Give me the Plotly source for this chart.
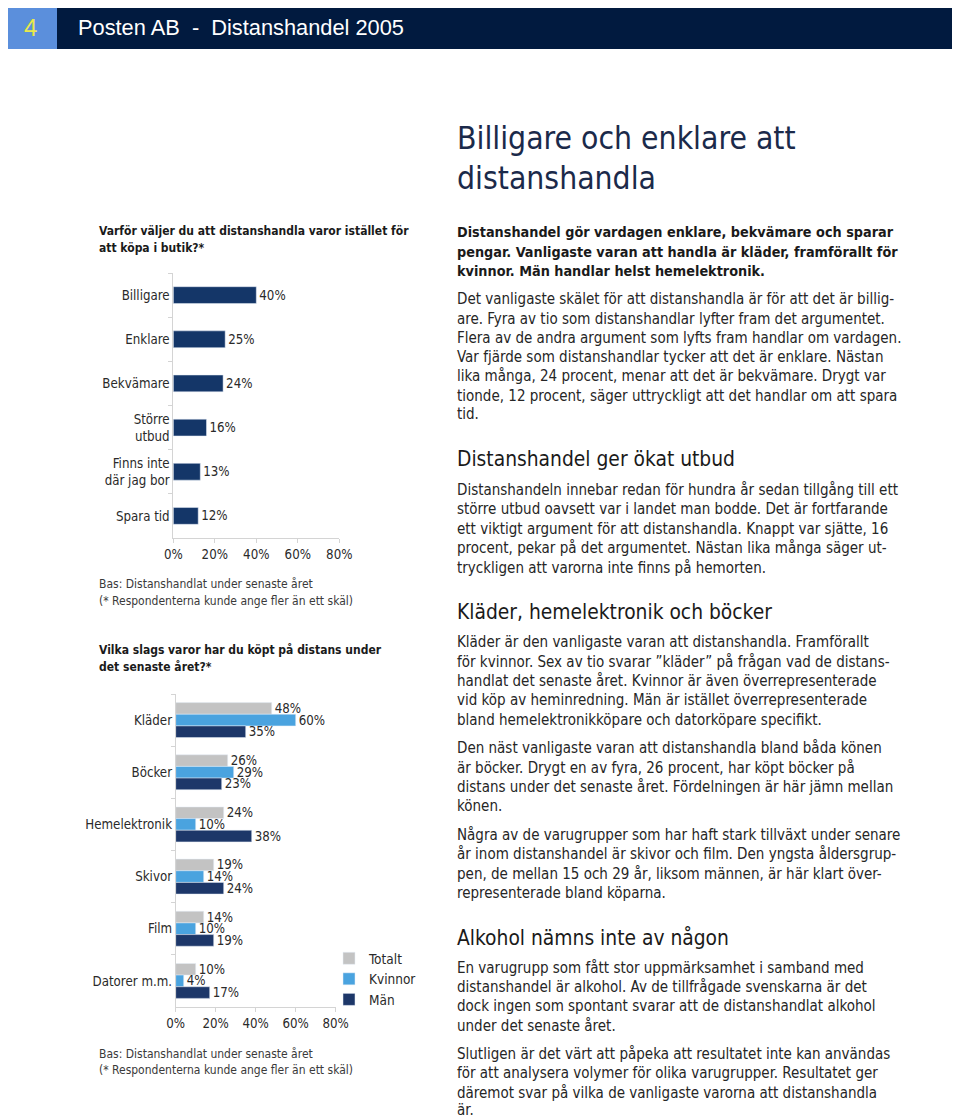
import plotly.graph_objects as go

# page offset: the browser puts the figure 8px from the page corner
OFF = 8
W, H = 960 - OFF, 1118 - OFF

# ---------------- data ----------------
reasons = ["Billigare", "Enklare", "Bekvämare", "Större<br>utbud", "Finns inte<br>där jag bor", "Spara tid"]
reason_pct = [40, 25, 24, 16, 13, 12]

goods = ["Kläder", "Böcker", "Hemelektronik", "Skivor", "Film", "Datorer m.m."]
totalt = [48, 26, 24, 19, 14, 10]
kvinnor = [60, 29, 10, 14, 10, 4]
man = [35, 23, 38, 24, 19, 17]
series_names = ["Totalt", "Kvinnor", "Män"]

tick_vals = [0, 20, 40, 60, 80]
tick_text = ["0%", "20%", "40%", "60%", "80%"]

# ---------------- style ----------------
FONT = "Liberation Sans Narrow, Arial Narrow, DejaVu Sans Condensed, sans-serif"
NAVY = "#143668"
C_TOT = "#c3c3c3"
C_KV = "#4aa3df"
C_MAN = "#1d3769"
AXC = "#d4d4d4"
TXT = "#2a2a2a"
CS = 12    # chart title / note size
LS = 13.2  # axis and value label size


def px(x):
    return (x - OFF) / W


def py(y):
    return 1 - (y - OFF) / H


fig = go.Figure()

fig.add_trace(go.Bar(
    x=reason_pct, y=reasons, orientation="h", marker_color=NAVY,
    width=0.38, text=[f"{v}%" for v in reason_pct], textposition="outside",
    constraintext="none", cliponaxis=False, textfont=dict(size=LS, color=TXT, family=FONT),
    xaxis="x", yaxis="y", showlegend=False, hoverinfo="x+y"))

for name, vals, col in zip(series_names, [totalt, kvinnor, man], [C_TOT, C_KV, C_MAN]):
    fig.add_trace(go.Bar(
        x=vals, y=goods, orientation="h", name=name, marker_color=col,
        text=[f"{v}%" for v in vals], textposition="outside",
        constraintext="none", cliponaxis=False,
        textfont=dict(size=LS, color=TXT, family=FONT),
        xaxis="x2", yaxis="y2"))

axis_common = dict(showgrid=False, zeroline=False, showline=True, linecolor=AXC,
                   ticks="outside", ticklen=4, tickcolor=AXC, automargin=False,
                   tickfont=dict(size=LS, color=TXT, family=FONT))

fig.update_layout(
    width=W, height=H, margin=dict(l=0, r=0, t=0, b=0, autoexpand=False),
    paper_bgcolor="white", plot_bgcolor="white",
    barmode="group", bargap=0.33, bargroupgap=0,
    font=dict(family=FONT, color=TXT),
    xaxis=dict(domain=[px(173.3), px(339.3)], range=[0, 80], anchor="y",
               tickvals=tick_vals, ticktext=tick_text, **axis_common),
    yaxis=dict(domain=[py(538), py(273)], type="category", autorange="reversed",
               anchor="x", tickson="boundaries", **axis_common),
    xaxis2=dict(domain=[px(175.7), px(335.7)], range=[0, 80], anchor="y2",
                tickvals=tick_vals, ticktext=tick_text, **axis_common),
    yaxis2=dict(domain=[py(1007), py(694)], type="category", autorange="reversed",
                anchor="x2", tickson="boundaries", **axis_common),
    legend=dict(x=px(329), y=py(943), xanchor="left", yanchor="top",
                font=dict(size=13.5, color=TXT, family=FONT), bgcolor="rgba(0,0,0,0)",
                traceorder="normal"),
)

# ---------------- page furniture ----------------
fig.add_shape(type="rect", xref="paper", yref="paper", x0=0, x1=1, y0=py(49), y1=1,
              fillcolor="#011a3f", line_width=0, layer="below")
fig.add_shape(type="rect", xref="paper", yref="paper", x0=0, x1=px(57), y0=py(49), y1=1,
              fillcolor="#5b8fdc", line_width=0, layer="below")

annotations = []


def txt(x, y, s, size, color=TXT, family=FONT, xanchor="left"):
    annotations.append(dict(x=px(x), y=py(y), xref="paper", yref="paper", text=s,
                            showarrow=False, xanchor=xanchor, yanchor="middle", align="left",
                            font=dict(size=size, color=color, family=family)))


HEAD = "Liberation Sans, Arial, sans-serif"
txt(30, 27, "4", 24, "#e9e94b", HEAD, xanchor="center")
txt(76, 27, "Posten AB  -  Distanshandel 2005", 21.8, "white", HEAD)

TITLEC = "#1b2a4a"
txt(455, 138, "Billigare och enklare att", 31.6, TITLEC)
txt(455, 178, "distanshandla", 31.6, TITLEC)

BS = 15
lines_bold = [
    (232, "Distanshandel gör vardagen enklare, bekvämare och sparar"),
    (252, "pengar. Vanligaste varan att handla är kläder, framförallt för"),
    (271, "kvinnor. Män handlar helst hemelektronik."),
]
for y, s in lines_bold:
    txt(455, y, f"<b>{s}</b>", 14.3, "#1a1a1a")

body = [
    (299, "Det vanligaste skälet för att distanshandla är för att det är billig-"),
    (319, "are. Fyra av tio som distanshandlar lyfter fram det argumentet."),
    (338, "Flera av de andra argument som lyfts fram handlar om vardagen."),
    (357, "Var fjärde som distanshandlar tycker att det är enklare. Nästan"),
    (376, "lika många, 24 procent, menar att det är bekvämare. Drygt var"),
    (396, "tionde, 12 procent, säger uttryckligt att det handlar om att spara"),
    (414, "tid."),
    (490, "Distanshandeln innebar redan för hundra år sedan tillgång till ett"),
    (509, "större utbud oavsett var i landet man bodde. Det är fortfarande"),
    (529, "ett viktigt argument för att distanshandla. Knappt var sjätte, 16"),
    (548, "procent, pekar på det argumentet. Nästan lika många säger ut-"),
    (568, "tryckligen att varorna inte finns på hemorten."),
    (642, "Kläder är den vanligaste varan att distanshandla. Framförallt"),
    (662, "för kvinnor. Sex av tio svarar ”kläder” på frågan vad de distans-"),
    (681, "handlat det senaste året. Kvinnor är även överrepresenterade"),
    (700, "vid köp av heminredning. Män är istället överrepresenterade"),
    (720, "bland hemelektronikköpare och datorköpare specifikt."),
    (748, "Den näst vanligaste varan att distanshandla bland båda könen"),
    (768, "är böcker. Drygt en av fyra, 26 procent, har köpt böcker på"),
    (787, "distans under det senaste året. Fördelningen är här jämn mellan"),
    (806, "könen."),
    (835, "Några av de varugrupper som har haft stark tillväxt under senare"),
    (854, "år inom distanshandel är skivor och film. Den yngsta åldersgrup-"),
    (874, "pen, de mellan 15 och 29 år, liksom männen, är här klart över-"),
    (893, "representerade bland köparna."),
    (968, "En varugrupp som fått stor uppmärksamhet i samband med"),
    (987, "distanshandel är alkohol. Av de tillfrågade svenskarna är det"),
    (1006, "dock ingen som spontant svarar att de distanshandlat alkohol"),
    (1026, "under det senaste året."),
    (1054, "Slutligen är det värt att påpeka att resultatet inte kan användas"),
    (1073, "för att analysera volymer för olika varugrupper. Resultatet ger"),
    (1093, "däremot svar på vilka de vanligaste varorna att distanshandla"),
    (1110, "är."),
]
for y, s in body:
    txt(455, y, s, BS, "#262626")

heads = [
    (459, "Distanshandel ger ökat utbud"),
    (612, "Kläder, hemelektronik och böcker"),
    (937, "Alkohol nämns inte av någon"),
]
for y, s in heads:
    txt(455, y, s, 20.8, "#1a1a1a")

# left column titles and notes
txt(97, 231, "<b>Varför väljer du att distanshandla varor istället för</b>", CS, "#1a1a1a")
txt(97, 248, "<b>att köpa i butik?*</b>", CS, "#1a1a1a")
txt(97, 584, "Bas: Distanshandlat under senaste året", CS, "#3a3a3a")
txt(97, 601, "(* Respondenterna kunde ange fler än ett skäl)", CS, "#3a3a3a")

txt(97, 650, "<b>Vilka slags varor har du köpt på distans under</b>", CS, "#1a1a1a")
txt(97, 667, "<b>det senaste året?*</b>", CS, "#1a1a1a")
txt(97, 1054, "Bas: Distanshandlat under senaste året", CS, "#3a3a3a")
txt(97, 1070, "(* Respondenterna kunde ange fler än ett skäl)", CS, "#3a3a3a")

fig.update_layout(annotations=annotations)

fig.write_html("out.html")
